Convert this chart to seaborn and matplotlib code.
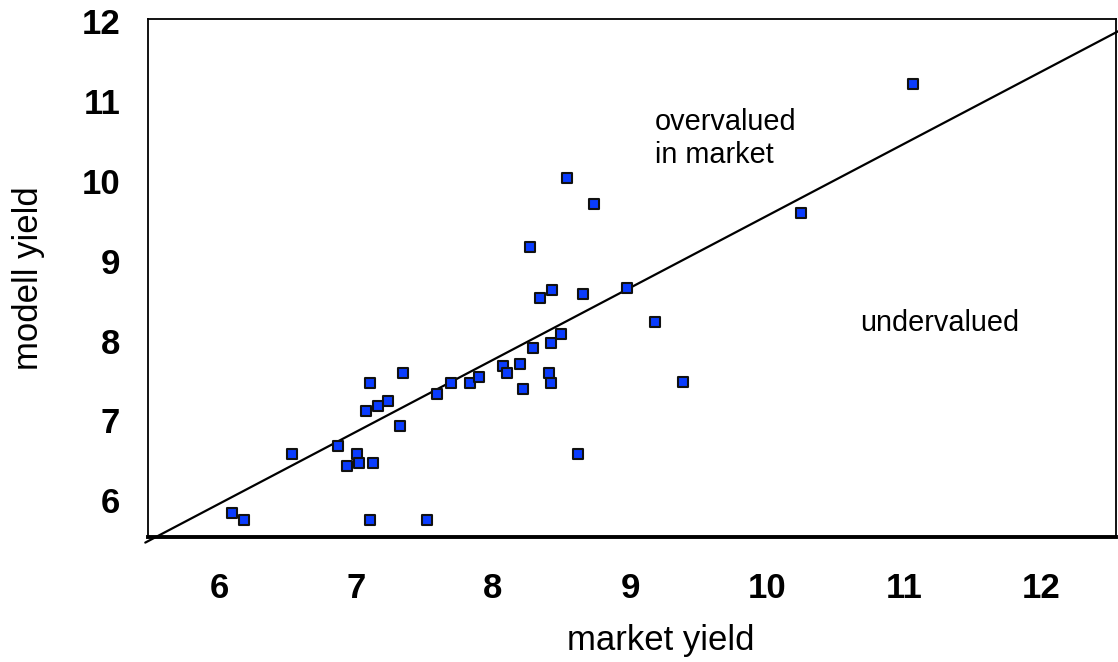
import pandas as pd
import seaborn as sns
import matplotlib.pyplot as plt

# values
market_yield = [6.09, 6.18, 6.53, 6.87, 6.93, 7.01, 7.02, 7.12, 7.10, 7.07, 7.10, 7.16,
                7.23, 7.32, 7.34, 7.52, 7.59, 7.69, 7.83, 7.90, 8.07, 8.10, 8.20, 8.22,
                8.29, 8.27, 8.34, 8.43, 8.41, 8.42, 8.42, 8.50, 8.54, 8.62, 8.66, 8.74,
                8.98, 9.18, 9.39, 10.25, 11.07]
modell_yield = [5.84, 5.75, 6.58, 6.68, 6.43, 6.58, 6.47, 6.47, 5.75, 7.12, 7.47, 7.18,
                7.25, 6.93, 7.59, 5.75, 7.33, 7.47, 7.47, 7.54, 7.68, 7.60, 7.71, 7.40,
                7.91, 9.17, 8.53, 8.64, 7.60, 7.47, 7.97, 8.08, 10.04, 6.58, 8.58, 9.71,
                8.66, 8.24, 7.48, 9.60, 11.21]

# dividing line (fair value)
line_x = [5.46, 12.57]
line_y = [5.47, 11.88]

x_ticks = [6, 7, 8, 9, 10, 11, 12]
y_ticks = [6, 7, 8, 9, 10, 11, 12]

df = pd.DataFrame({'market yield': market_yield, 'modell yield': modell_yield})

sns.set_style('white')
plt.rcParams['font.family'] = ['Liberation Sans', 'DejaVu Sans']
plt.rcParams['text.color'] = 'black'
plt.rcParams['axes.labelcolor'] = 'black'
plt.rcParams['xtick.color'] = 'black'
plt.rcParams['ytick.color'] = 'black'

fig = plt.figure(figsize=(11.18, 6.62), dpi=100)
ax = fig.add_axes([0.1324, 0.1888, 0.8658, 0.7825])

ax.plot(line_x, line_y, color='black', linewidth=1.6, clip_on=False, zorder=2)
sns.scatterplot(data=df, x='market yield', y='modell yield', ax=ax, marker='s',
                s=60, color='#0A3CFF', edgecolor='#111111', linewidth=1.5, zorder=3)

ax.set_xlim(5.48, 12.55)
ax.set_ylim(5.54, 12.03)
ax.set_xticks(x_ticks)
ax.set_yticks(y_ticks)
ax.tick_params(length=0, labelsize=25, colors='black')
ax.tick_params(axis='x', pad=25)
ax.tick_params(axis='y', pad=20)
for lab in ax.get_xticklabels() + ax.get_yticklabels():
  lab.set_fontweight('bold')

ax.set_xlabel('market yield', fontsize=25, color='black')
ax.set_ylabel('modell yield', fontsize=25, color='black')
ax.xaxis.set_label_coords(0.53, -0.168)
ax.yaxis.set_label_coords(-0.106, 0.5)

for side in ['left', 'top', 'right']:
  ax.spines[side].set_color('black')
  ax.spines[side].set_linewidth(1.3)
ax.spines['bottom'].set_color('black')
ax.spines['bottom'].set_linewidth(2.8)

ax.text(9.18, 10.92, 'overvalued\nin market', fontsize=20.8, va='top', ha='left',
        linespacing=1.25, color='black')
ax.text(10.68, 8.12, 'undervalued', fontsize=20.8, va='baseline', ha='left',
        color='black')

plt.savefig('out.png', dpi=100)
plt.close()
